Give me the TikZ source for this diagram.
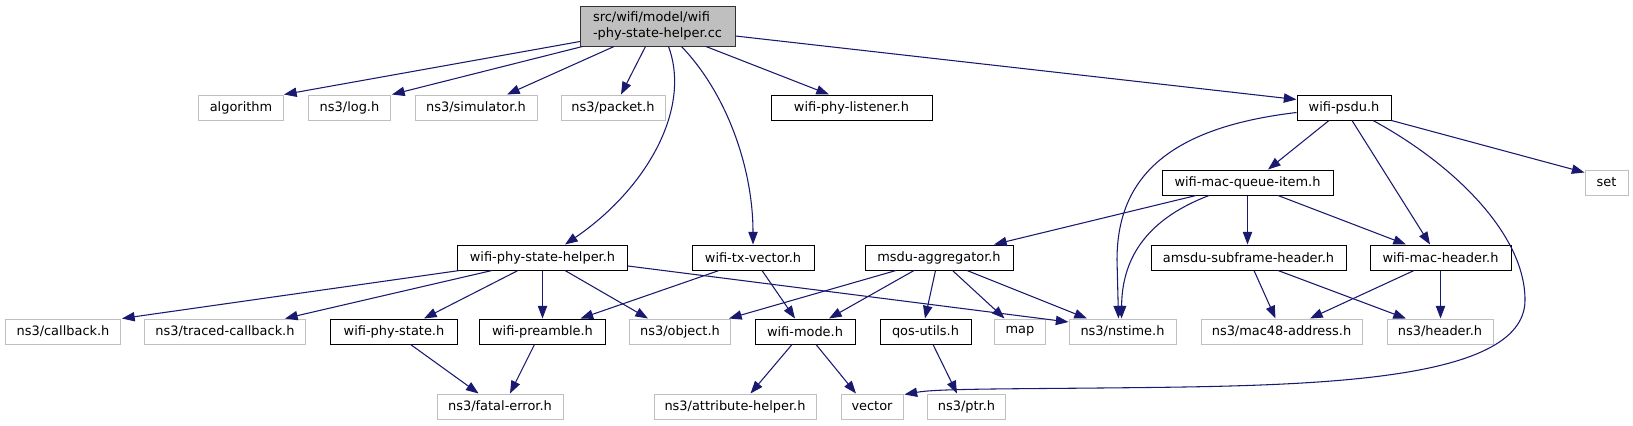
\documentclass[tikz,border=0pt]{standalone}
\usepackage{fontspec}
\setmainfont{DejaVu Sans}
\usetikzlibrary{arrows.meta,calc}
\definecolor{edgec}{HTML}{191970}
\definecolor{undoc}{HTML}{BFBFBF}
\definecolor{mainfill}{HTML}{BFBFBF}
\begin{document}
\begin{tikzpicture}[x=0.75pt,y=-0.75pt,
  box/.style={draw=black,line width=0.75pt,inner sep=0pt,minimum height=18.75pt,font=\fontsize{9.7}{11.5}\selectfont},
  ext/.style={box,draw=undoc},
  bw/.style={minimum width=#1*0.75pt},
  edg/.style={draw=edgec,line width=0.8pt,-{Triangle[length=9.5pt,width=7pt]}}]
\useasboundingbox (0,0) rectangle (1633,425);
% main
\node[box,fill=mainfill,draw=black!80,bw=155,minimum height=30pt,align=left] (main) at (657.5,26) {src/wifi/model/wifi\\-phy-state-helper.cc};
% row 1
\node[ext,bw=85] (alg) at (241,107.5) {algorithm};
\node[ext,bw=82] (log) at (349.5,107.5) {ns3/log.h};
\node[ext,bw=122] (sim) at (476,107.5) {ns3/simulator.h};
\node[ext,bw=104] (pkt) at (613,107.5) {ns3/packet.h};
\node[box,bw=161] (lis) at (851.5,107.5) {wifi-phy-listener.h};
\node[box,bw=94] (psdu) at (1344,107.5) {wifi-psdu.h};
% row 2
\node[box,bw=171] (mqi) at (1247.5,182.5) {wifi-mac-queue-item.h};
\node[ext,bw=43] (set) at (1606.5,182.5) {set};
% row 3
\node[box,bw=170] (psh) at (542.5,257.5) {wifi-phy-state-helper.h};
\node[box,bw=122] (txv) at (753,257.5) {wifi-tx-vector.h};
\node[box,bw=148] (msdu) at (939,257.5) {msdu-aggregator.h};
\node[box,bw=195] (amsdu) at (1248.5,257.5) {amsdu-subframe-header.h};
\node[box,bw=141] (mh) at (1440.5,257.5) {wifi-mac-header.h};
% row 4
\node[ext,bw=115] (cb) at (63,331.5) {ns3/callback.h};
\node[ext,bw=161] (tcb) at (225,331.5) {ns3/traced-callback.h};
\node[box,bw=127] (ps) at (394,331.5) {wifi-phy-state.h};
\node[box,bw=126] (pre) at (542.5,331.5) {wifi-preamble.h};
\node[ext,bw=101] (obj) at (680,331.5) {ns3/object.h};
\node[box,bw=100] (mode) at (805,331.5) {wifi-mode.h};
\node[box,bw=91] (qos) at (925.5,331.5) {qos-utils.h};
\node[ext,bw=51] (map) at (1020,331.5) {map};
\node[ext,bw=107] (nst) at (1122.5,331.5) {ns3/nstime.h};
\node[ext,bw=161] (mac48) at (1281.5,331.5) {ns3/mac48-address.h};
\node[ext,bw=106] (hdr) at (1440,331.5) {ns3/header.h};
% row 5
\node[ext,bw=126] (fat) at (500,406.5) {ns3/fatal-error.h};
\node[ext,bw=162] (attr) at (735,406.5) {ns3/attribute-helper.h};
\node[ext,bw=62] (vec) at (872,406.5) {vector};
\node[ext,bw=78] (ptr) at (966.5,406.5) {ns3/ptr.h};
% edges from main
\draw[edg] ($(main.south west)+(0.5,-5)$) -- (alg.north east);
\draw[edg] ($(main.south west)+(3,0)$) -- ($(log.north east)+(1,0)$);
\draw[edg] ($(main.south west)+(34.5,0)$) -- ($(sim.north)+(31,0)$);
\draw[edg] ($(main.south west)+(66,0)$) -- ($(pkt.north)+(8,0)$);
\draw[edg] ($(main.south)+(11,0)$) .. controls (692,110) and (645,190) .. ($(psh.north)+(22.5,0)$);
\draw[edg] ($(main.south)+(24,0)$) .. controls (728,95) and (753,170) .. (txv.north);
\draw[edg] ($(main.south)+(48.5,0)$) -- ($(lis.north)+(-22.5,0)$);
\draw[edg] ($(main.east)+(0,10)$) -- ($(psdu.west)+(0,-8)$);
% edges from wifi-psdu.h
\draw[edg] ($(psdu.west)+(0,5)$) .. controls (1165,128) and (1117,180) .. (1117,260) -- ($(nst.north)+(-4,0)$);
\draw[edg] ($(psdu.south)+(-15,0)$) -- ($(mqi.north)+(20.5,0)$);
\draw[edg] ($(psdu.south)+(8,0)$) -- ($(mh.north)+(-10.5,0)$);
\draw[edg] ($(psdu.south)+(29,0)$) .. controls (1455,165) and (1525,235) .. (1525,300)
  .. controls (1525,385) and (1300,386) .. (1100,388) .. controls (990,389) and (935,389) .. ($(vec.north east)+(1,1)$);
\draw[edg] (psdu.south east) -- ($(set.north west)+(0,3)$);
% edges from wifi-mac-queue-item.h
\draw[edg] ($(mqi.south)+(-38.5,0)$) .. controls (1150,218) and (1122,255) .. ($(nst.north)+(-1,0)$);
\draw[edg] ($(mqi.south)+(-51.5,0)$) -- ($(msdu.north)+(55,0)$);
\draw[edg] (mqi.south) -- (mqi.south |- amsdu.north);
\draw[edg] ($(mqi.south)+(30.5,0)$) -- ($(mh.north)+(-34.5,0)$);
% edges from wifi-phy-state-helper.h
\draw[edg] ($(psh.south west)+(2.5,0)$) -- ($(cb.north east)+(1,0)$);
\draw[edg] ($(psh.south)+(-50.5,0)$) -- ($(tcb.north)+(60,0)$);
\draw[edg] ($(psh.south)+(-24.5,0)$) -- ($(ps.north)+(30,0)$);
\draw[edg] (psh.south) -- (pre.north);
\draw[edg] ($(psh.south)+(22.5,0)$) -- ($(obj.north)+(-32,0)$);
\draw[edg] ($(psh.east)+(0,8.5)$) -- ($(nst.west)+(0,-9.5)$);
% edges from wifi-tx-vector.h
\draw[edg] ($(txv.south)+(-34,0)$) -- ($(pre.north)+(38,0)$);
\draw[edg] ($(txv.south)+(9,0)$) -- ($(mode.north)+(-10,0)$);
% edges from msdu-aggregator.h
\draw[edg] ($(msdu.south)+(-43,0)$) -- ($(obj.north east)+(-2,0)$);
\draw[edg] ($(msdu.south)+(-25,0)$) -- ($(mode.north)+(24,0)$);
\draw[edg] ($(msdu.south)+(-3.5,0)$) -- ($(qos.north)+(-0.5,0)$);
\draw[edg] ($(msdu.south)+(13.5,0)$) -- ($(map.north)+(-15.4,0)$);
\draw[edg] ($(msdu.south)+(28,0)$) -- ($(nst.north)+(-35.5,0)$);
% edges from amsdu-subframe-header.h and wifi-mac-header.h
\draw[edg] ($(amsdu.south)+(5.5,0)$) -- ($(mac48.north)+(-6,0)$);
\draw[edg] ($(amsdu.south)+(29.5,0)$) -- ($(hdr.north)+(-34,0)$);
\draw[edg] ($(mh.south)+(-26.5,0)$) -- ($(mac48.north)+(28.5,0)$);
\draw[edg] (mh.south) -- (mh.south |- hdr.north);
% lower edges
\draw[edg] ($(ps.south)+(16.6,0)$) -- ($(fat.north)+(-21.4,0)$);
\draw[edg] ($(pre.south)+(-8,0)$) -- ($(fat.north)+(10,0)$);
\draw[edg] ($(mode.south)+(-13,0)$) -- ($(attr.north)+(15.5,0)$);
\draw[edg] ($(mode.south)+(11,0)$) -- ($(vec.north)+(-16,0)$);
\draw[edg] ($(qos.south)+(7.5,0)$) -- ($(ptr.north)+(-9.5,0)$);
\end{tikzpicture}
\end{document}
